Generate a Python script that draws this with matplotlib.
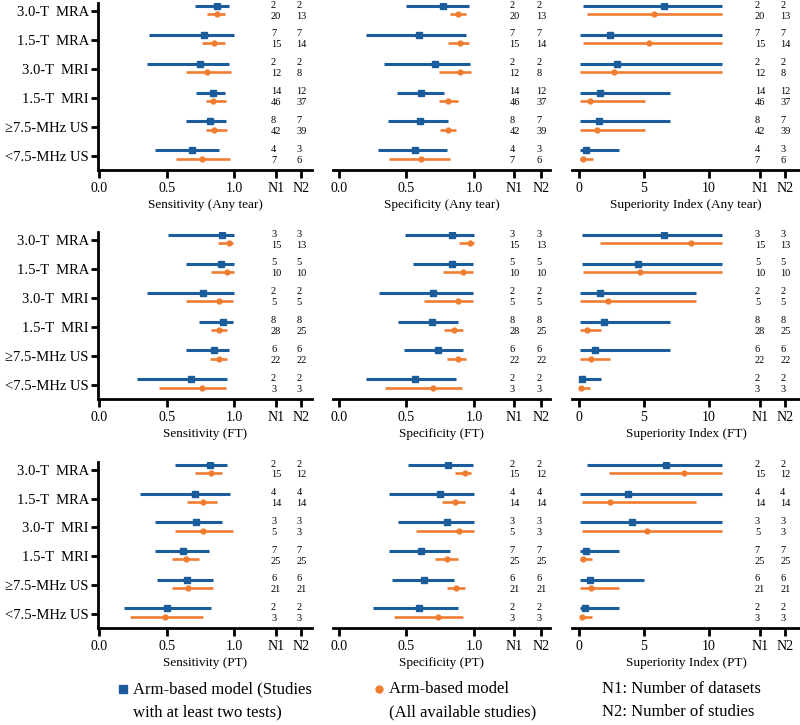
import matplotlib
matplotlib.use("Agg")
import matplotlib.pyplot as plt
from matplotlib.lines import Line2D

plt.rcParams['font.family'] = ['Liberation Serif', 'DejaVu Serif']

categories = ["3.0-T  MRA", "1.5-T  MRA", "3.0-T  MRI", "1.5-T  MRI", "≥7.5-MHz US", "<7.5-MHz US"]

# (estimate, lower, upper) per category; _b = studies with >=2 tests, _o = all available studies
sens_any_b = [(0.87, 0.71, 0.96), (0.78, 0.37, 1.00), (0.75, 0.35, 0.96), (0.84, 0.72, 0.93), (0.82, 0.64, 0.94), (0.69, 0.41, 0.89)]
sens_any_o = [(0.87, 0.80, 0.93), (0.85, 0.76, 0.93), (0.80, 0.64, 0.98), (0.84, 0.79, 0.94), (0.85, 0.79, 0.95), (0.76, 0.57, 0.97)]
spec_any_b = [(0.77, 0.50, 0.96), (0.59, 0.20, 0.94), (0.71, 0.33, 0.97), (0.61, 0.43, 0.78), (0.60, 0.36, 0.81), (0.56, 0.29, 0.80)]
spec_any_o = [(0.88, 0.82, 0.94), (0.90, 0.81, 0.96), (0.90, 0.74, 0.98), (0.81, 0.74, 0.88), (0.81, 0.75, 0.87), (0.61, 0.37, 0.82)]
si_any_b = [(6.5, 0.3, 11.0), (2.4, 0.05, 11.0), (2.9, 0.05, 11.0), (1.6, 0.1, 7.0), (1.5, 0.1, 7.0), (0.5, 0.05, 3.1)]
si_any_o = [(5.8, 0.6, 11.0), (5.4, 0.3, 11.0), (2.7, 0.1, 11.0), (0.85, 0.1, 5.05), (1.4, 0.1, 5.05), (0.3, 0.1, 1.1)]

sens_ft_b = [(0.91, 0.51, 1.00), (0.90, 0.64, 1.00), (0.77, 0.35, 1.00), (0.92, 0.74, 0.99), (0.85, 0.64, 0.96), (0.68, 0.28, 0.95)]
sens_ft_o = [(0.96, 0.88, 0.99), (0.95, 0.83, 1.00), (0.89, 0.64, 0.99), (0.89, 0.83, 0.95), (0.89, 0.82, 0.95), (0.76, 0.44, 0.94)]
spec_ft_b = [(0.84, 0.49, 1.00), (0.84, 0.55, 0.99), (0.70, 0.30, 0.99), (0.69, 0.44, 0.88), (0.73, 0.48, 0.92), (0.56, 0.20, 0.87)]
spec_ft_o = [(0.97, 0.89, 1.00), (0.92, 0.77, 0.99), (0.88, 0.63, 0.99), (0.85, 0.78, 0.92), (0.88, 0.80, 0.94), (0.70, 0.34, 0.91)]
si_ft_b = [(6.5, 0.2, 11.0), (4.5, 0.2, 11.0), (1.6, 0.05, 9.0), (1.9, 0.1, 7.0), (1.2, 0.1, 7.0), (0.26, 0.1, 1.7)]
si_ft_o = [(8.6, 1.6, 11.0), (4.7, 0.3, 11.0), (2.2, 0.1, 9.0), (0.64, 0.1, 1.7), (0.9, 0.1, 2.4), (0.18, 0.05, 0.87)]

sens_pt_b = [(0.82, 0.56, 0.95), (0.71, 0.30, 0.97), (0.72, 0.41, 0.91), (0.62, 0.41, 0.81), (0.65, 0.43, 0.84), (0.50, 0.18, 0.83)]
sens_pt_o = [(0.83, 0.71, 0.91), (0.77, 0.65, 0.87), (0.77, 0.56, 0.99), (0.64, 0.54, 0.74), (0.66, 0.54, 0.84), (0.49, 0.23, 0.77)]
spec_pt_b = [(0.81, 0.51, 0.99), (0.75, 0.37, 1.00), (0.80, 0.44, 1.00), (0.61, 0.37, 0.82), (0.63, 0.39, 0.85), (0.59, 0.25, 0.88)]
spec_pt_o = [(0.93, 0.86, 0.98), (0.86, 0.76, 0.93), (0.89, 0.57, 1.00), (0.80, 0.71, 0.88), (0.87, 0.80, 0.93), (0.73, 0.41, 0.92)]
si_pt_b = [(6.7, 0.6, 11.0), (3.8, 0.05, 11.0), (4.1, 0.05, 11.0), (0.57, 0.05, 3.1), (0.83, 0.05, 5.0), (0.44, 0.05, 3.1)]
si_pt_o = [(8.1, 2.3, 11.0), (2.4, 0.2, 9.0), (5.2, 0.2, 11.0), (0.31, 0.05, 1.0), (0.96, 0.05, 3.1), (0.23, 0.05, 1.0)]

# N1 = number of datasets, N2 = number of studies (blue / orange)
n1_any_b = [2, 7, 2, 14, 8, 4]
n1_any_o = [20, 15, 12, 46, 42, 7]
n2_any_b = [2, 7, 2, 12, 7, 3]
n2_any_o = [13, 14, 8, 37, 39, 6]
n1_ft_b = [3, 5, 2, 8, 6, 2]
n1_ft_o = [15, 10, 5, 28, 22, 3]
n2_ft_b = [3, 5, 2, 8, 6, 2]
n2_ft_o = [13, 10, 5, 25, 22, 3]
n1_pt_b = [2, 4, 3, 7, 6, 2]
n1_pt_o = [15, 14, 5, 25, 21, 3]
n2_pt_b = [2, 4, 3, 7, 6, 2]
n2_pt_o = [12, 14, 3, 25, 21, 3]

row_names = ["Any tear", "FT", "PT"]
metric_names = ["Sensitivity", "Specificity", "Superiority Index"]

BLUE = "#1B5C9B"
ORANGE = "#EE7D31"

W, H = 800, 725
fig = plt.figure(figsize=(W / 100, H / 100), dpi=100)

rows_px = [(3, 170), (232, 399), (462, 628)]
cols_px = [(98, 312), (333, 550), (572, 800)]
xlims = [(-0.01, 1.578), (-0.044, 1.563), (-0.54, 17.0)]
npos = [(1.31, 1.50), (1.30, 1.50), (13.9, 15.85)]
ticks = [[0.0, 0.5, 1.0], [0.0, 0.5, 1.0], [0, 5, 10]]
ticklabs = [["0.0", "0.5", "1.0"], ["0.0", "0.5", "1.0"], ["0", "5", "10"]]

data = [
    [(sens_any_b, sens_any_o), (spec_any_b, spec_any_o), (si_any_b, si_any_o)],
    [(sens_ft_b, sens_ft_o), (spec_ft_b, spec_ft_o), (si_ft_b, si_ft_o)],
    [(sens_pt_b, sens_pt_o), (spec_pt_b, spec_pt_o), (si_pt_b, si_pt_o)],
]
ns = [
    (n1_any_b, n1_any_o, n2_any_b, n2_any_o),
    (n1_ft_b, n1_ft_o, n2_ft_b, n2_ft_o),
    (n1_pt_b, n1_pt_o, n2_pt_b, n2_pt_o),
]

OFF_B, OFF_O = -0.18, 0.11

for r, (y0, y1) in enumerate(rows_px):
    for c, (x0, x1) in enumerate(cols_px):
        ax = fig.add_axes([x0 / W, 1 - y1 / H, (x1 - x0) / W, (y1 - y0) / H])
        ax.set_xlim(*xlims[c])
        ax.set_ylim(5.5, -0.28)
        ax.patch.set_alpha(0)
        for s in ["top", "right"]:
            ax.spines[s].set_visible(False)
        ax.spines["bottom"].set_linewidth(2)
        if c == 0:
            ax.spines["left"].set_linewidth(2)
            ax.set_yticks(range(len(categories)))
            ax.set_yticklabels(categories, fontsize=10.5)
            ax.tick_params(axis="y", length=5, width=2, pad=1.5)
        else:
            ax.spines["left"].set_visible(False)
            ax.set_yticks([])
        n1x, n2x = npos[c]
        ax.set_xticks(ticks[c] + [n1x, n2x])
        ax.set_xticklabels(ticklabs[c] + ["N1", "N2"], fontsize=10)
        ax.tick_params(axis="x", length=6, width=2, pad=2.5)
        ax.set_xlabel(f"{metric_names[c]} ({row_names[r]})", fontsize=9.5, labelpad=3)

        blue, orange = data[r][c]
        for i in range(len(categories)):
            e, lo, hi = blue[i]
            ax.plot([lo, hi], [i + OFF_B, i + OFF_B], color=BLUE, lw=2.2, solid_capstyle="butt")
            ax.plot([e], [i + OFF_B], marker="s", ms=4.5, color=BLUE, mec=BLUE)
            e, lo, hi = orange[i]
            ax.plot([lo, hi], [i + OFF_O, i + OFF_O], color=ORANGE, lw=1.9, solid_capstyle="butt")
            ax.plot([e], [i + OFF_O], marker="o", ms=3.5, color=ORANGE, mec=ORANGE)

        n1b, n1o, n2b, n2o = ns[r]
        for i in range(len(categories)):
            for xv, vb, vo in [(n1x, n1b[i], n1o[i]), (n2x, n2b[i], n2o[i])]:
                ax.annotate(str(vb), (xv, i + OFF_B - 0.03), xytext=(-3.5, 0), textcoords="offset points",
                            ha="left", va="center", fontsize=7.5, annotation_clip=False)
                ax.annotate(str(vo), (xv, i + OFF_O + 0.06), xytext=(-3.5, 0), textcoords="offset points",
                            ha="left", va="center", fontsize=7.5, annotation_clip=False)

# Legend
ly1, ly2 = 1 - 689 / H, 1 - 712 / H
fig.add_artist(Line2D([123 / W], [ly1], transform=fig.transFigure, marker="s", ms=6,
                      color=BLUE, mec=BLUE, ls="none"))
fig.text(133 / W, ly1, "Arm-based model (Studies", fontsize=12, va="center")
fig.text(133 / W, ly2, "with at least two tests)", fontsize=12, va="center")
fig.add_artist(Line2D([379 / W], [ly1], transform=fig.transFigure, marker="o", ms=5,
                      color=ORANGE, mec=ORANGE, ls="none"))
fig.text(389 / W, ly1, "Arm-based model", fontsize=12, va="center")
fig.text(389 / W, ly2, "(All available studies)", fontsize=12, va="center")
fig.text(602 / W, ly1, "N1: Number of datasets", fontsize=12, va="center")
fig.text(602 / W, ly2, "N2: Number of studies", fontsize=12, va="center")

fig.savefig("out.png", dpi=100)
